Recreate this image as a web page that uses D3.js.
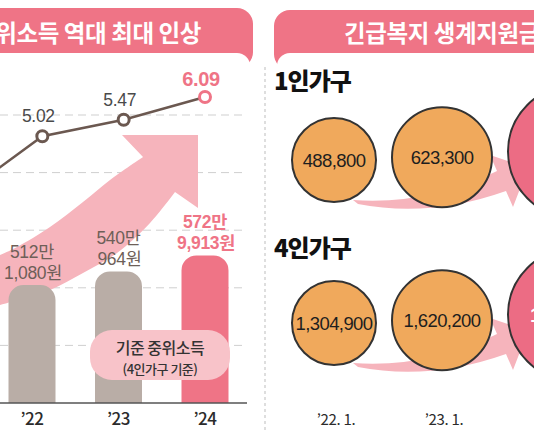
<!DOCTYPE html>
<html>
<head>
<meta charset="utf-8"/>
<script src="https://cdnjs.cloudflare.com/ajax/libs/d3/7.8.5/d3.min.js"></script>
<style>
  html, body { margin: 0; padding: 0; background: #fff; overflow: hidden; }
  svg { display: block; font-family: "Noto Sans CJK KR", "Noto Sans", sans-serif; }
  .num { font-family: "Liberation Sans", "Noto Sans CJK KR", sans-serif; }
</style>
</head>
<body>
<script>
// 기준 중위소득 (left panel)
const years = ["’22", "’23", "’24"];
const rateYears = ["’21", "’22", "’23", "’24"];
const rates = [3.4, 5.02, 5.47, 6.09];          // '21 point is off the picture, estimated
const incomeMan = [512, 540, 572];               // 만 part
const incomeWon = [1080, 964, 9913];             // 원 part

// 긴급복지 생계지원금 (right panel)
const aidDates = ["’22. 1.", "’23. 1.", "’24. 1."];
const aidOne = [488800, 623300, 713100];
const aidFour = [1304900, 1620200, 1833000];

const width = 534, height = 443;
const pink = "#ef7486", taupe = "#b9ada6", brown = "#6b5850", lightPink = "#f6b4bc";

const svg = d3.select("body").append("svg")
    .attr("width", width).attr("height", height)
    .attr("viewBox", [0, 0, width, height]);

// ---------- left panel ----------
const left = svg.append("g");

// header band with the panel corner cut out of it
left.append("rect").attr("x", -30).attr("y", 8).attr("width", 283).attr("height", 60)
    .attr("rx", 16).attr("fill", pink);
left.append("rect").attr("x", -30).attr("y", 53).attr("width", 280).attr("height", 400)
    .attr("rx", 13).attr("fill", "#fff");
left.append("text").attr("x", 201).attr("y", 42).attr("text-anchor", "end")
    .attr("fill", "#fff").attr("font-size", 23.5).attr("font-weight", 700)
    .attr("letter-spacing", -0.4)
    .text("기준 중위소득 역대 최대 인상");

const baseY = 403, plotTop = 115;
const x = d3.scalePoint().domain(years).range([32, 205]);
const xLine = d3.scalePoint().domain(rateYears).range([-39, 205]);
const yBar = d3.scaleLinear().domain([270, 580]).range([baseY, 252]);
const yLine = d3.scaleLinear().domain([5, 6.5]).range([137, 82]);

// dashed grid
const gridY = d3.range(1, 6).map(i => baseY - i * (baseY - plotTop) / 5);
left.append("g").selectAll("line").data(gridY).join("line")
    .attr("x1", 0).attr("x2", 247).attr("y1", d => d).attr("y2", d => d)
    .attr("stroke", "#cfcfcf").attr("stroke-dasharray", "8,5");

// big rising arrow (decoration)
const curve = d3.line().curve(d3.curveCatmullRom);
const upper = [[-40, 272], [0, 255], [17, 247], [50, 227], [83, 202], [110, 180], [143, 157]];
const lower = [[175, 192], [150, 223], [117, 253], [83, 273], [50, 290], [17, 300], [0, 305], [-40, 314]];
const arrowD = curve(upper) + "L122,135L198,135L198,208" + curve(lower).replace(/^M/, "L") + "Z";
left.append("path").attr("d", arrowD).attr("fill", lightPink);

// bars with rounded tops
const bw = 47, br = 15;
const income = incomeMan.map((m, i) => m + incomeWon[i] / 10000);
left.append("g").selectAll("path").data(income).join("path")
    .attr("fill", (d, i) => i === income.length - 1 ? pink : taupe)
    .attr("d", (d, i) => {
      const x0 = x(years[i]) - bw / 2, x1 = x0 + bw, t = yBar(d);
      return `M${x0},${baseY}V${t + br}A${br},${br} 0 0 1 ${x0 + br},${t}H${x1 - br}A${br},${br} 0 0 1 ${x1},${t + br}V${baseY}Z`;
    });

// bar labels (two lines each)
const barLabels = left.append("g").attr("class", "num").attr("text-anchor", "middle")
    .attr("font-size", 17.5).attr("letter-spacing", -0.3);
income.forEach((d, i) => {
  const last = i === income.length - 1;
  const style = t => t.attr("fill", last ? pink : "#6e5f58").attr("font-weight", last ? 700 : 400);
  barLabels.append("text").call(style)
      .attr("x", x(years[i])).attr("y", yBar(d) - 27).text(incomeMan[i] + "만");
  barLabels.append("text").call(style)
      .attr("x", x(years[i]) + 1).attr("y", yBar(d) - 6)
      .text(d3.format(",")(incomeWon[i]) + "원");
});

// legend pill
left.append("rect").attr("x", 90).attr("y", 330).attr("width", 140).attr("height", 50)
    .attr("rx", 22).attr("fill", "#f8c3c9");
left.append("text").attr("x", 160).attr("y", 354).attr("text-anchor", "middle")
    .attr("font-size", 16).attr("font-weight", 500).attr("fill", "#333")
    .attr("letter-spacing", -0.5).text("기준 중위소득");
left.append("text").attr("x", 160).attr("y", 374).attr("text-anchor", "middle")
    .attr("font-size", 13).attr("font-weight", 500).attr("fill", "#333")
    .attr("letter-spacing", -0.5).text("(4인가구 기준)");

// x axis
left.append("line").attr("x1", 0).attr("x2", 247).attr("y1", baseY).attr("y2", baseY)
    .attr("stroke", "#555").attr("stroke-width", 1.5);
left.append("g").selectAll("text").data(years).join("text")
    .attr("x", d => x(d)).attr("y", 425).attr("text-anchor", "middle")
    .attr("font-size", 17).attr("font-weight", 500).attr("fill", "#2b2b2b")
    .attr("letter-spacing", -0.5).text(d => d);

// increase-rate line
const pts = rates.map((v, i) => [xLine(rateYears[i]), yLine(v)]);
left.append("path").attr("d", d3.line()(pts)).attr("fill", "none")
    .attr("stroke", brown).attr("stroke-width", 2.5);
left.append("g").selectAll("circle").data(pts.slice(1)).join("circle")
    .attr("cx", d => d[0]).attr("cy", d => d[1]).attr("r", 5.5)
    .attr("fill", "#fff").attr("stroke-width", 3)
    .attr("stroke", (d, i) => i === 2 ? pink : brown);
left.append("g").attr("class", "num").selectAll("text").data(rates.slice(1)).join("text")
    .attr("x", (d, i) => xLine(rateYears[i + 1]) - 4)
    .attr("y", (d, i) => yLine(d) - (i === 2 ? 11 : 14))
    .attr("text-anchor", "middle")
    .attr("font-size", (d, i) => i === 2 ? 20 : 17.5)
    .attr("font-weight", (d, i) => i === 2 ? 700 : 400)
    .attr("fill", (d, i) => i === 2 ? pink : "#4a4a4a")
    .attr("letter-spacing", -0.3)
    .text(d => d.toFixed(2));

// divider
svg.append("line").attr("x1", 265).attr("x2", 265).attr("y1", 67).attr("y2", 433)
    .attr("stroke", "#bdbdbd").attr("stroke-dasharray", "3,3");

// ---------- right panel ----------
const right = svg.append("g");
right.append("rect").attr("x", 274).attr("y", 10).attr("width", 300).attr("height", 60)
    .attr("rx", 16).attr("fill", pink);
right.append("rect").attr("x", 277).attr("y", 53).attr("width", 300).attr("height", 400)
    .attr("rx", 13).attr("fill", "#fff");
right.append("text").attr("x", 344).attr("y", 42)
    .attr("fill", "#fff").attr("font-size", 23.5).attr("font-weight", 700)
    .attr("letter-spacing", -0.4).text("긴급복지 생계지원금");

const radius = d3.scaleOrdinal().domain(aidDates).range([42, 50, 66]);
const cxs = [334];
aidDates.slice(1).forEach((d, i) => cxs.push(cxs[i] + radius(aidDates[i]) + radius(d) + 16));
const cx = d3.scaleOrdinal().domain(aidDates).range(cxs);

const rows = [
  {label: "1인가구", values: aidOne, y: 160, labelY: 90},
  {label: "4인가구", values: aidFour, y: 323, labelY: 257}
];

rows.forEach(row => {
  const g = right.append("g");
  g.append("text").attr("x", 274).attr("y", row.labelY)
      .attr("font-size", 24).attr("font-weight", 900).attr("fill", "#111")
      .attr("letter-spacing", -1).text(row.label);

  // curved arrow from first circle toward the last
  const ox = cx(aidDates[0]), oy = row.y;
  g.append("path").attr("fill", lightPink)
      .attr("transform", `translate(${ox},${oy})`)
      .attr("d", "M19,40Q96,45 163,11L156,-5L194,8L179,47L172,31Q96,58 24,44Z");

  const cy = d => row.y - (radius(d) - 42) * 0.35;
  g.append("g").selectAll("circle").data(aidDates).join("circle")
      .attr("cx", d => cx(d)).attr("cy", cy).attr("r", d => radius(d))
      .attr("fill", (d, i) => i === aidDates.length - 1 ? "#ec6c84" : "#f0a95c")
      .attr("stroke", "#333").attr("stroke-width", 2);
  g.append("g").attr("class", "num").selectAll("text").data(row.values).join("text")
      .attr("x", (d, i) => cx(aidDates[i]))
      .attr("y", (d, i) => cy(aidDates[i]) + 7)
      .attr("text-anchor", "middle")
      .attr("font-size", (d, i) => i === 2 ? 21 : 18.5)
      .attr("font-weight", (d, i) => i === 2 ? 700 : 400)
      .attr("fill", (d, i) => i === 2 ? "#fff" : "#1e1e1e")
      .attr("letter-spacing", -0.6)
      .text(d => d3.format(",")(d));
});

right.append("g").selectAll("text").data(aidDates).join("text")
    .attr("x", d => cx(d) + 2).attr("y", 425).attr("text-anchor", "middle")
    .attr("font-size", 15).attr("fill", "#2b2b2b").attr("letter-spacing", -0.3)
    .text(d => d);
</script>
</body>
</html>
